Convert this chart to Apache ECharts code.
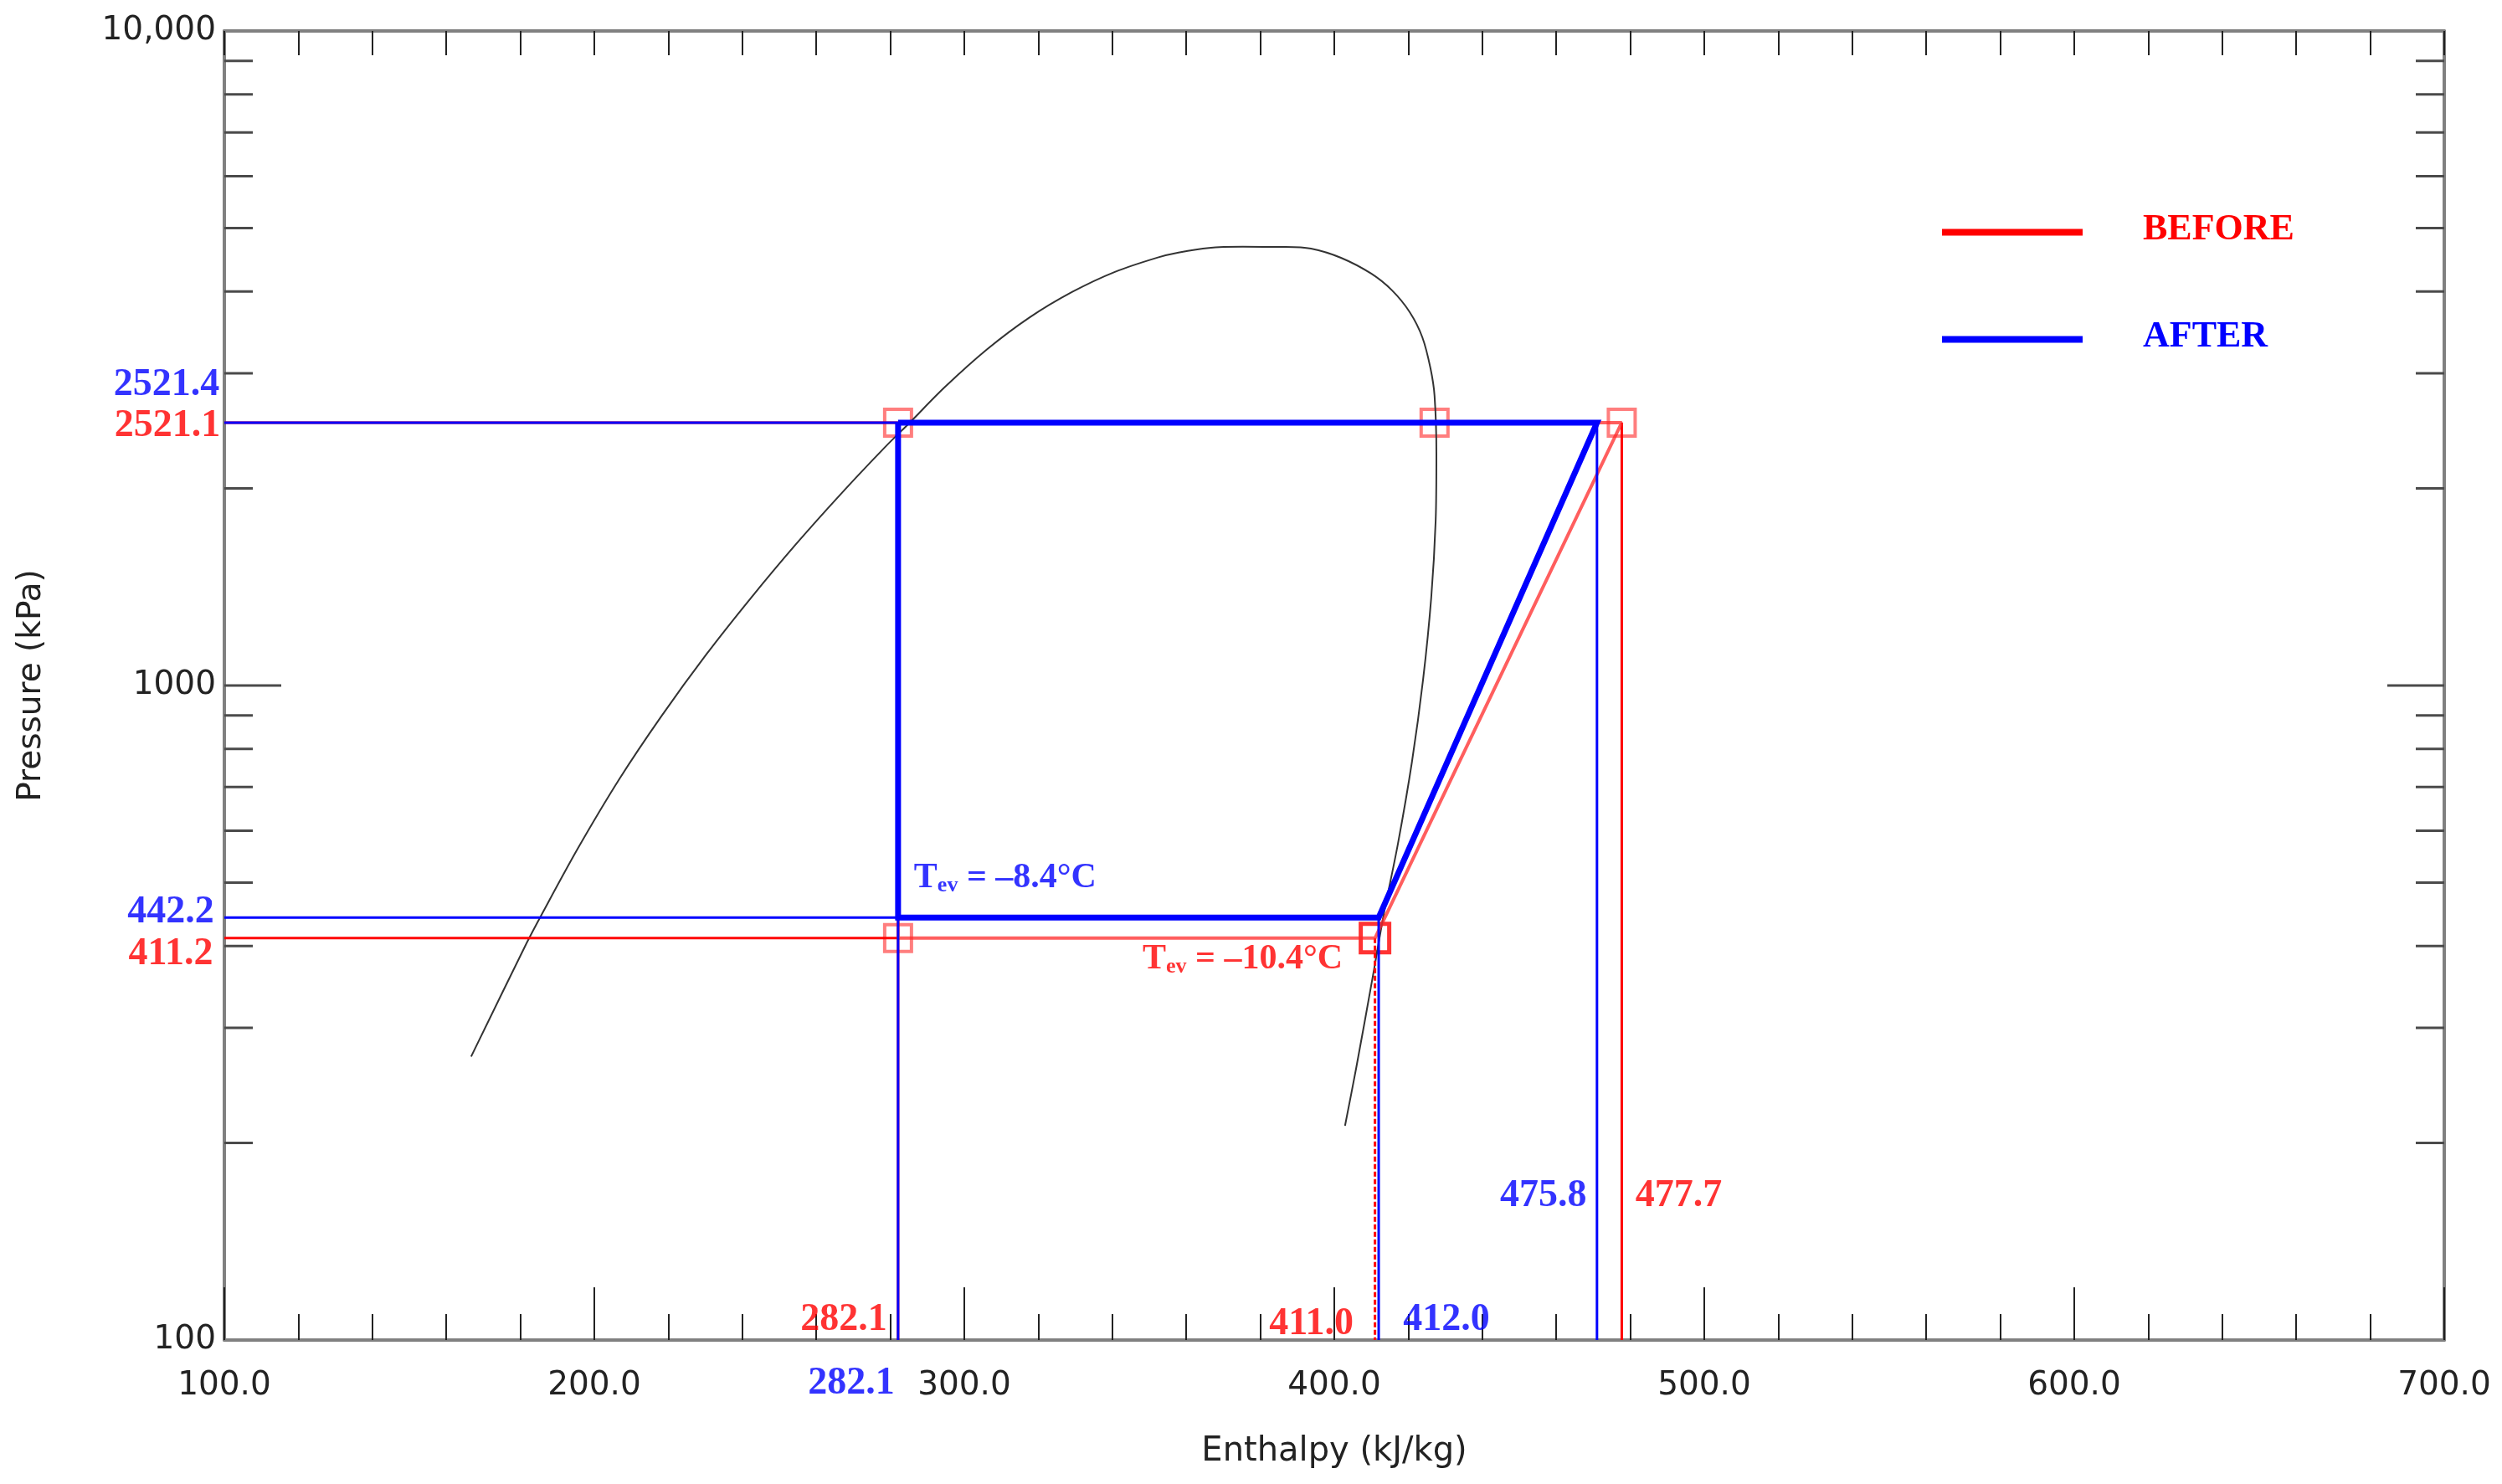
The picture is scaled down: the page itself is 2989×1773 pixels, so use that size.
<!DOCTYPE html>
<html><head><meta charset="utf-8">
<script src="https://cdn.jsdelivr.net/npm/echarts@6/dist/echarts.min.js"></script>
<style>html,body{margin:0;padding:0;background:#fff}#c{width:2989px;height:1773px}</style>
</head><body><div id="c"></div>
<script>
// ---- data ----
// saturation dome
const domeH = [166.7,181.7,185.7,195.5,206.8,218.1,230.3,242.3,254.5,266.5,278.7,285.3,294.6,306.1,317.6,329.2,340.7,352.3,357.9,366.1,375.3,386.9,393.7,401.8,410.0,415.6,420.4,423.8,426.0,427.1,427.6,427.4,426.2,424.0,421.0,417.2,413.3,410.4,405.9,402.9];
const domeP = [271,404,446,563,720,897,1116,1360,1644,1958,2317,2523,2852,3261,3649,3994,4285,4508,4587,4662,4680,4679,4651,4503,4258,4015,3718,3404,3052,2770,2261,1786,1362,1021,765,573,445,359,260,212.5];
// cycles
const beforeH = [282.1, 282.1, 411.0, 477.7, 282.1];
const beforeP = [2521.1, 411.2, 411.2, 2521.1, 2521.1];
const afterH  = [282.1, 282.1, 412.0, 471.0, 282.1];
const afterP  = [2521.4, 442.2, 442.2, 2521.4, 2521.4];
// state-point markers (BEFORE)
const markH = [282.1, 427.1, 477.7, 282.1];
const markP = [2521.1, 2521.1, 2521.1, 411.2];
const evapOutH = [411.0];
const evapOutP = [411.2];
// annotation texts
const pLabelVals  = [2521.4, 2521.1, 442.2, 411.2];
const pLabelTexts = ['2521.4', '2521.1', '442.2', '411.2'];
const hLabelVals  = [282.1, 282.1, 411.0, 412.0, 471.0, 477.7];
const hLabelTexts = ['282.1', '282.1', '411.0', '412.0', '475.8', '477.7'];
const tevTexts = ['\u20138.4', '\u201310.4'];
// axes
const xTickLabels = ['100.0','200.0','300.0','400.0','500.0','600.0','700.0'];
const yTickLabels = ['100','1000','10,000'];
const yMinorTicks = [200,300,400,500,600,700,800,900,2000,3000,4000,5000,6000,7000,8000,9000];
const yMajorTicks = [1000];

const X_MIN = 100, X_MAX = 700, Y_MIN = 100, Y_MAX = 10000;
const RED = '#ff0000', BLUE = '#0000ff', PALE = 'rgba(255,40,40,0.75)';
const SERIF = '"Liberation Serif","Times New Roman",serif';
const SANS = '"DejaVu Sans",Verdana,sans-serif';
// legend icon: bar drawn in the lower part of the icon box so the text sits slightly above it
const LEGEND_ICON = 'path://M0,0L1,0L1,0.01Z M0,5L168,5L168,13L0,13Z';

const zip = (a, b) => a.map((v, i) => [v, b[i]]);
const series = [];

series.push({type:'line', name:'dome', data: zip(domeH, domeP), showSymbol:false, smooth:0.3,
  lineStyle:{color:'#333', width:2}, silent:true});

function seg(pts, color, width, type) {
  series.push({type:'line', data: pts, showSymbol:false, silent:true,
    lineStyle:{color:color, width:width, type: type || 'solid'}});
}
// red reference lines
seg([[X_MIN, beforeP[0]], [beforeH[0], beforeP[0]]], RED, 3);
seg([[X_MIN, beforeP[1]], [beforeH[1], beforeP[1]]], RED, 3);
seg([[beforeH[1], beforeP[1]], [beforeH[1], Y_MIN]], RED, 3);
seg([[beforeH[3], beforeP[3]], [beforeH[3], Y_MIN]], RED, 3);
seg([[beforeH[2], beforeP[2]], [beforeH[2], Y_MIN]], RED, 3, [6, 3]);
// red cycle
series.push({type:'line', name:'BEFORE', data: zip(beforeH, beforeP), showSymbol:false, silent:true,
  lineStyle:{color:PALE, width:4}, itemStyle:{color:RED}});
series.push({type:'scatter', data: zip(markH, markP), symbol:'rect', symbolSize:32, silent:true,
  itemStyle:{color:'rgba(0,0,0,0)', borderColor:PALE, borderWidth:4}});
series.push({type:'scatter', data: zip(evapOutH, evapOutP), symbol:'rect', symbolSize:34, silent:true,
  itemStyle:{color:'rgba(0,0,0,0)', borderColor:RED, borderWidth:5}});
// blue reference lines
seg([[X_MIN, afterP[0]], [afterH[0], afterP[0]]], BLUE, 3);
seg([[X_MIN, afterP[1]], [afterH[1], afterP[1]]], BLUE, 3);
seg([[afterH[1], afterP[1]], [afterH[1], Y_MIN]], BLUE, 3);
seg([[afterH[2], afterP[2]], [afterH[2], Y_MIN]], BLUE, 3);
seg([[afterH[3], afterP[3]], [afterH[3], Y_MIN]], BLUE, 3);
// blue cycle
series.push({type:'line', name:'AFTER', data: zip(afterH, afterP), showSymbol:false, silent:true,
  lineStyle:{color:BLUE, width:7, join:'miter'}, itemStyle:{color:BLUE}});

// y-axis ticks (log minor ticks at 2..9) on both sides
series.push({type:'custom', silent:true, z:5, clip:false,
  data: yMinorTicks.map(v => [X_MIN, v, 34]).concat(yMajorTicks.map(v => [X_MIN, v, 68])),
  renderItem: function (params, api) {
    const v = api.value(1), len = api.value(2);
    const l = api.coord([X_MIN, v]), r = api.coord([X_MAX, v]);
    const st = {stroke:'#4a4a4a', lineWidth:3};
    return {type:'group', children:[
      {type:'line', shape:{x1:l[0], y1:l[1], x2:l[0] + len, y2:l[1]}, style:st},
      {type:'line', shape:{x1:r[0] - len, y1:r[1], x2:r[0], y2:r[1]}, style:st}
    ]};
  }});

// annotations
const annoLabel = {show:true, position:'inside', fontFamily:SERIF, fontWeight:'bold', fontSize:46};
const pOffsets = [[-69,-45],[-68,4],[-64,-6],[-64,19]];
const pColors = [BLUE, RED, BLUE, RED];
const hOffsets = [[-65,-24],[-56,52],[-76,-19],[81,-24],[-64,-172],[68,-172]];
const hColors = [RED, BLUE, RED, BLUE, BLUE, RED];
const annoData = [];
pLabelVals.forEach((v, i) => annoData.push({value:[X_MIN, v],
  label:Object.assign({}, annoLabel, {formatter: pLabelTexts[i], color: pColors[i], offset: pOffsets[i]})}));
hLabelVals.forEach((v, i) => annoData.push({value:[v, Y_MIN],
  label:Object.assign({}, annoLabel, {formatter: hLabelTexts[i], color: hColors[i], offset: hOffsets[i]})}));
function tevRich(color) {
  return {
    t:{fontFamily:SERIF, fontWeight:'bold', fontSize:42, lineHeight:42, color:color, verticalAlign:'top'},
    s:{fontFamily:SERIF, fontWeight:'bold', fontSize:26, lineHeight:26, color:color, padding:[19,0,0,0]}
  };
}
annoData.push({value:[afterH[1], afterP[1]], label:{show:true, position:'inside', offset:[128,-47],
  formatter:'{t|T}{s|ev}{t| = ' + tevTexts[0] + '\u00b0C}', rich: tevRich(BLUE)}});
annoData.push({value:[beforeH[2], beforeP[2]], label:{show:true, position:'inside', offset:[-158,25],
  formatter:'{t|T}{s|ev}{t| = ' + tevTexts[1] + '\u00b0C}', rich: tevRich(RED)}});
series.push({type:'scatter', data: annoData, symbolSize:1, silent:true, z:10,
  itemStyle:{color:'rgba(0,0,0,0)'}});

const axLine = {lineStyle:{color:'#808080', width:4}};
const option = {
  animation:false,
  backgroundColor:'#fff',
  grid:{left:268, right:69, top:37, bottom:172, containLabel:false},
  legend:{show:true, orient:'vertical', left:2315, top:245, itemWidth:168, itemHeight:13, itemGap:78,
    selectedMode:false, icon:LEGEND_ICON,
    textStyle:{fontFamily:SERIF, fontWeight:'bold', fontSize:44, lineHeight:50, padding:[0,0,0,67]},
    data:[{name:'BEFORE', itemStyle:{color:RED}, textStyle:{color:RED}},
          {name:'AFTER', itemStyle:{color:BLUE}, textStyle:{color:BLUE}}]},
  xAxis:[
    {type:'value', min:X_MIN, max:X_MAX, interval:100, position:'bottom',
     axisLine:axLine,
     axisTick:{show:true, inside:true, length:63, lineStyle:{color:'#222', width:2}},
     minorTick:{show:true, splitNumber:5, length:31, lineStyle:{color:'#222', width:2}},
     splitLine:{show:false}, minorSplitLine:{show:false},
     axisLabel:{show:true, margin:35, fontFamily:SANS, fontSize:39, color:'#222',
       showMinLabel:true, showMaxLabel:true,
       formatter:(v, i) => xTickLabels[i]},
     name:'Enthalpy (kJ/kg)', nameLocation:'middle', nameGap:114,
     nameTextStyle:{fontFamily:SANS, fontSize:40, color:'#222'}},
    {type:'value', min:X_MIN, max:X_MAX, interval:100, position:'top',
     axisLine:axLine,
     axisTick:{show:true, inside:true, length:29, lineStyle:{color:'#222', width:2}},
     minorTick:{show:true, splitNumber:5, length:29, lineStyle:{color:'#222', width:2}},
     splitLine:{show:false}, axisLabel:{show:false}}
  ],
  yAxis:[
    {type:'log', logBase:10, min:Y_MIN, max:Y_MAX, position:'left',
     axisLine:axLine, axisTick:{show:false}, splitLine:{show:false}, minorTick:{show:false},
     axisLabel:{show:true, margin:10, fontFamily:SANS, fontSize:39, color:'#222',
       showMinLabel:true, showMaxLabel:true,
       formatter:(v, i) => yTickLabels[i]},
     name:'Pressure (kPa)', nameLocation:'middle', nameGap:211, nameRotate:90,
     nameTextStyle:{fontFamily:SANS, fontSize:39, color:'#222'}},
    {type:'log', logBase:10, min:Y_MIN, max:Y_MAX, position:'right',
     axisLine:axLine, axisTick:{show:false}, splitLine:{show:false}, axisLabel:{show:false}}
  ],
  series: series
};
const chart = echarts.init(document.getElementById('c'), null, {renderer:'canvas'});
chart.setOption(option);
</script></body></html>
